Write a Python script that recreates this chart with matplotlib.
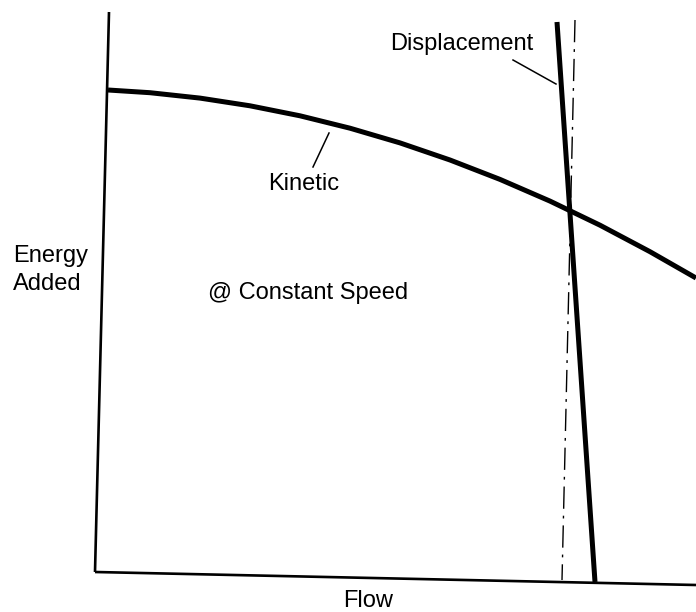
import matplotlib
matplotlib.use("Agg")
import matplotlib.pyplot as plt

# Scanned sketch, coordinates (pixel space, y down)
kinetic_flow = [108, 150, 200, 250, 300, 350, 400, 450, 500, 550, 600, 650, 696]
kinetic_energy = [90, 92.7, 98.1, 105.8, 115.8, 128.2, 142.9, 160, 179.4, 201.1, 225.2, 251.7, 278]

displacement_flow = [557, 595]
displacement_energy = [22, 582]

limit_flow = [575, 562]
limit_energy = [20, 580]

y_axis_x = [109, 95]
y_axis_y = [12, 572]
x_axis_x = [95, 696]
x_axis_y = [572, 585]

labels = ["Displacement", "Kinetic", "@ Constant Speed", "Energy\nAdded", "Flow"]

plt.rcParams['font.family'] = ['Liberation Sans', 'DejaVu Sans']

fig = plt.figure(figsize=(6.96, 6.12), dpi=100)
ax = fig.add_axes([0, 0, 1, 1])
ax.set_xlim(0, 696)
ax.set_ylim(612, 0)
ax.axis('off')

# axes of the sketch
ax.plot(y_axis_x, y_axis_y, color='black', lw=1.9, solid_capstyle='butt')
ax.plot(x_axis_x, x_axis_y, color='black', lw=1.9, solid_capstyle='butt')

# curves
ax.plot(kinetic_flow, kinetic_energy, color='black', lw=3.6,
        solid_capstyle='butt', solid_joinstyle='round')
ax.plot(displacement_flow, displacement_energy, color='black', lw=3.6, solid_capstyle='butt')
ax.plot(limit_flow, limit_energy, color='black', lw=1.0, linestyle=(0, (16, 5, 2, 5)))

# leader lines
ax.plot([513, 556], [60, 84], color='black', lw=1.1)
ax.plot([313, 329], [167, 133], color='black', lw=1.1)

fs = 17
ax.text(390, 44, labels[0], fontsize=fs, ha='left', va='center')
ax.text(268, 184, labels[1], fontsize=fs, ha='left', va='center')
ax.text(208, 293, labels[2], fontsize=fs, ha='left', va='center')
ax.text(13, 270, labels[3], fontsize=fs, ha='left', va='center', linespacing=1.38)
ax.text(368, 601, labels[4], fontsize=fs, ha='center', va='center')

fig.savefig("out.png", dpi=100)
